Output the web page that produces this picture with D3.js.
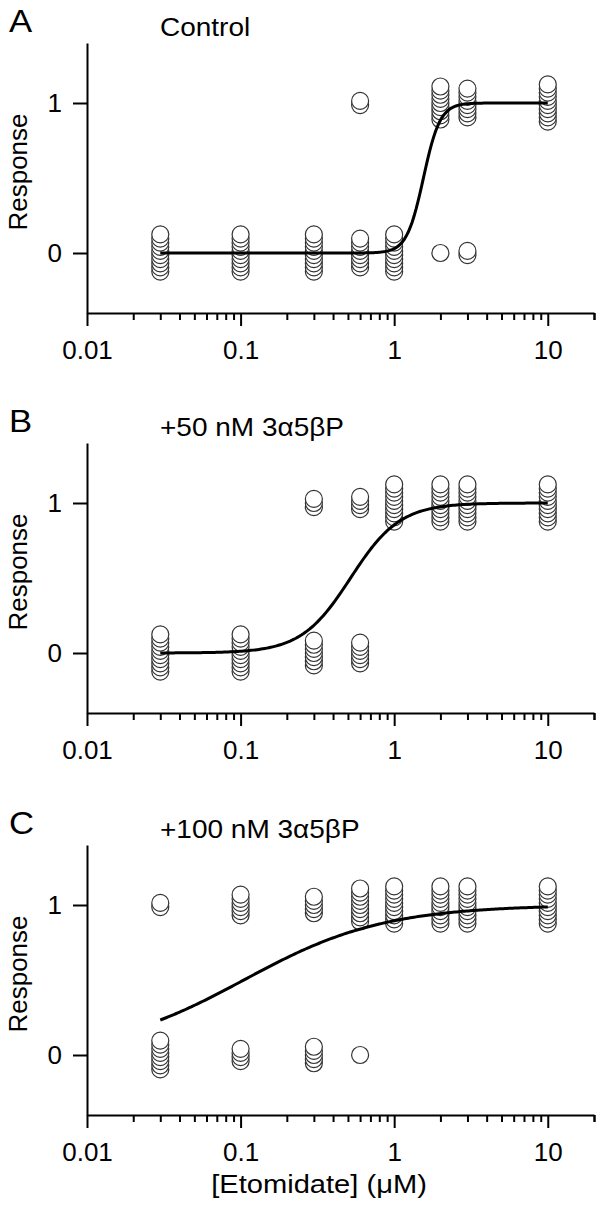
<!DOCTYPE html>
<html><head><meta charset="utf-8">
<script src="https://cdn.jsdelivr.net/npm/d3@7"></script>
<style>
body{margin:0;background:#fff}
text{font-family:Arial,"Liberation Sans",sans-serif;fill:#000}
</style>
</head><body>
<svg id="chart" width="600" height="1212"></svg>
<script>
// ---------------- data ----------------
const concentrations = [0.03, 0.1, 0.3, 0.6, 1, 2, 3, 10];   // µM etomidate
const panelLetters = ["A", "B", "C"];
const panelTitles = ["Control", "+50 nM 3α5βP", "+100 nM 3α5βP"];
// animals responding (1) / not responding (0) at each concentration
const respondersA    = [0, 0, 0, 2, 0, 9, 8, 10];
const nonRespondersA = [10, 10, 10, 8, 10, 1, 2, 0];
const respondersB    = [0, 0, 3, 4, 10, 10, 10, 10];
const nonRespondersB = [10, 10, 7, 6, 0, 0, 0, 0];
const respondersC    = [2, 6, 5, 9, 10, 10, 10, 10];
const nonRespondersC = [8, 4, 5, 1, 0, 0, 0, 0];
// Hill-equation fits
const fitEC50 = [1.55, 0.52, 0.105];
const fitHill = [8, 2.7, 0.95];
const xMajorTicks = [0.01, 0.1, 1, 10];
const xTickLabels = ["0.01", "0.1", "1", "10"];
const yTicks = [0, 1];
const xAxisTitle = "[Etomidate] (μM)";
const yAxisTitle = "Response";

// ---------------- layout ----------------
const svg = d3.select("#chart");
const panelOffsets = [0, 400, 802];
const x = d3.scaleLog().domain([0.01, 20]).range([87, 594]);
const stackStep = 0.0275;      // vertical display spacing of stacked symbols
const responders = [respondersA, respondersB, respondersC];
const nonResponders = [nonRespondersA, nonRespondersB, nonRespondersC];

const minorTicks = [];
[0.01, 0.1, 1, 10].forEach(d => { for (let k = 2; k <= 9; k++) minorTicks.push(d * k); });
minorTicks.push(20);

function wideText(sel, xPos, yPos, size, str, anchor) {
  return sel.append("text")
    .attr("transform", `translate(${xPos},${yPos}) scale(1.12,1)`)
    .attr("text-anchor", anchor || "start")
    .style("font-size", size + "px").text(str);
}

panelOffsets.forEach((off, p) => {
  const y = d3.scaleLinear().domain([-0.4, 1.4]).range([313 + off, 43 + off]);
  const g = svg.append("g");

  // points (stacks)
  const pts = [];
  concentrations.forEach((c, i) => {
    [[0, nonResponders[p][i]], [1, responders[p][i]]].forEach(([v, n]) => {
      for (let k = 0; k < n; k++) pts.push({c, v: v + (k - (n - 1) / 2) * stackStep});
    });
  });
  pts.sort((a, b) => a.v - b.v);
  g.append("g").selectAll("circle").data(pts).join("circle")
    .attr("cx", d => x(d.c)).attr("cy", d => y(d.v)).attr("r", 8.5)
    .attr("fill", "#fff").attr("stroke", "#333").attr("stroke-width", 1.2);

  // fit curve
  const lx = d3.range(0, 201).map(i => Math.pow(10, Math.log10(0.03) + i / 200 * (Math.log10(10) - Math.log10(0.03))));
  const line = d3.line().x(d => x(d)).y(d => y(1 / (1 + Math.pow(fitEC50[p] / d, fitHill[p]))));
  g.append("path").datum(lx).attr("d", line).attr("fill", "none")
    .attr("stroke", "#000").attr("stroke-width", 3);

  // axes
  const xa = g.append("g").attr("transform", `translate(0,${313 + off})`)
    .call(d3.axisBottom(x).tickValues(xMajorTicks).tickSize(13).tickSizeOuter(0).tickPadding(15)
      .tickFormat((d, i) => xTickLabels[i]));
  const xm = g.append("g").attr("transform", `translate(0,${313 + off})`)
    .call(d3.axisBottom(x).tickValues(minorTicks).tickSize(7).tickSizeOuter(0).tickFormat(""));
  xm.select(".domain").remove();
  const ya = g.append("g").attr("transform", `translate(87,0)`)
    .call(d3.axisLeft(y).tickValues(yTicks).tickSize(14).tickSizeOuter(0).tickPadding(11).tickFormat(d3.format("d")));
  [xa, xm, ya].forEach(a => {
    a.selectAll("path,line").attr("stroke", "#000").attr("stroke-width", 2);
    a.selectAll("text").style("font-size", "26px").attr("fill", "#000");
  });

  // y-axis title
  g.append("text").attr("transform", `translate(27,${172 + off}) rotate(-90)`)
    .attr("text-anchor", "middle").style("font-size", "26px").text(yAxisTitle);
  // panel letter and title
  wideText(g, 9, 32 + off, 31, panelLetters[p]);
  wideText(g, 160, 36 + off, 25, panelTitles[p]);
});

wideText(svg, 319, 1193, 26, xAxisTitle, "middle");
</script>
</body></html>
